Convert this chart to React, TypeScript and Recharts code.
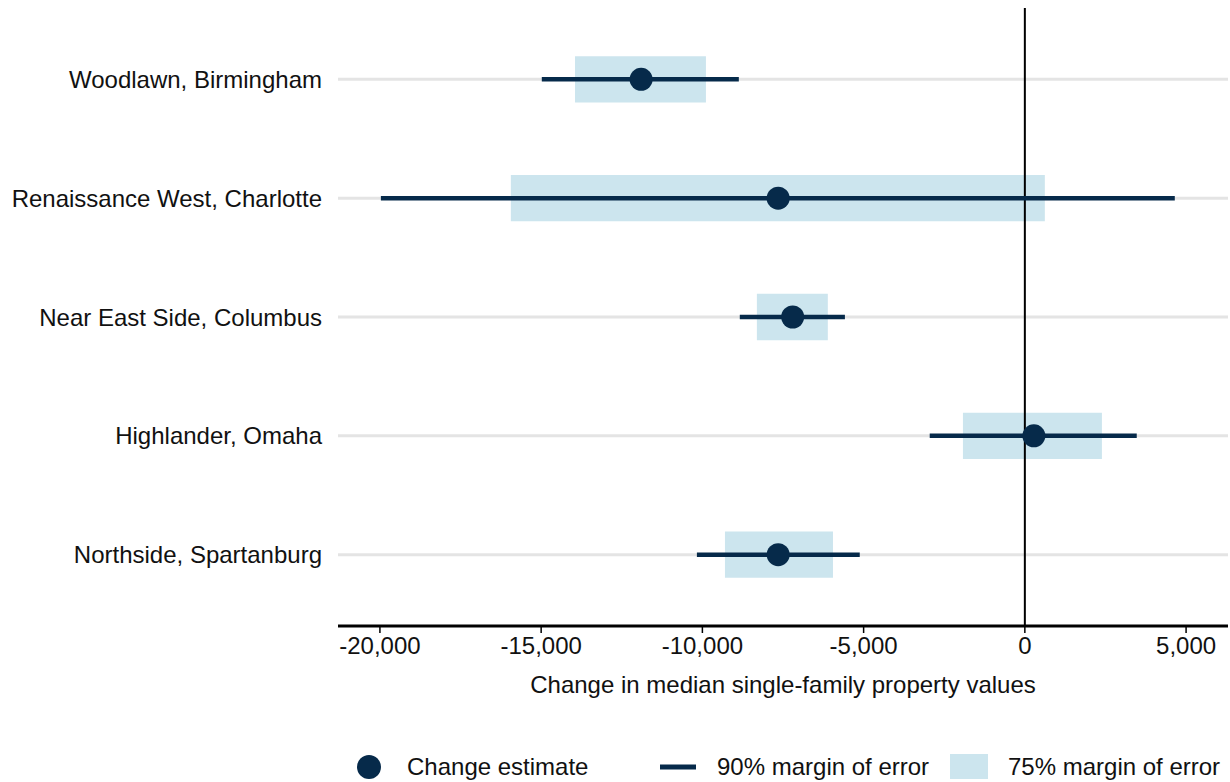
import React from 'react';
import {
  ScatterChart,
  Scatter,
  XAxis,
  YAxis,
  ReferenceArea,
  ReferenceLine,
  ErrorBar,
} from 'recharts';

// neighbourhoods, top to bottom
const places = [
  'Woodlawn, Birmingham',
  'Renaissance West, Charlotte',
  'Near East Side, Columbus',
  'Highlander, Omaha',
  'Northside, Spartanburg',
];
const estimates = [-11900, -7650, -7200, 280, -7650];
const moe90Low = [-14980, -19970, -8840, -2950, -10170];
const moe90High = [-8870, 4650, -5580, 3470, -5120];
const moe75Low = [-13950, -15940, -8310, -1920, -9300];
const moe75High = [-9890, 620, -6110, 2390, -5950];
const xTicks = [-20000, -15000, -10000, -5000, 0, 5000];

const NAVY = '#062a4a';
const LIGHT = '#cce5ee';
const FONT = '"Liberation Sans", Arial, sans-serif';

const rows = places.map((name, i) => ({
  row: i + 1,
  name,
  est: estimates[i],
  err: [estimates[i] - moe90Low[i], moe90High[i] - estimates[i]],
}));

const Dot = (props: any) => <circle cx={props.cx} cy={props.cy} r={11.5} fill={NAVY} />;

export default function App() {
  return (
    <div style={{ position: 'absolute', left: 0, top: 0, width: 1230, height: 782, background: '#fff', fontFamily: FONT }}>
      <ScatterChart width={1230} height={782} margin={{ top: 8, right: 2, bottom: 80, left: 0 }}>
        <XAxis
          type="number"
          dataKey="est"
          domain={[-21300, 6300]}
          ticks={xTicks}
          allowDataOverflow
          tickFormatter={(v: number) => v.toLocaleString('en-US')}
          axisLine={{ stroke: '#000', strokeWidth: 3 }}
          tickLine={{ stroke: '#000', strokeWidth: 1.5 }}
          tickSize={7}
          tickMargin={4}
          tick={{ fontSize: 24, fill: '#111', fontFamily: FONT }}
          height={76}
          label={{ value: 'Change in median single-family property values', position: 'insideBottom', offset: 9, fontSize: 24, fill: '#111', fontFamily: FONT }}
        />
        <YAxis
          type="number"
          dataKey="row"
          domain={[0.4, 5.6]}
          reversed
          ticks={[1, 2, 3, 4, 5]}
          tickFormatter={(v: number) => places[v - 1] ?? ''}
          axisLine={false}
          tickLine={false}
          tickSize={0}
          tickMargin={16}
          width={338}
          tick={{ fontSize: 24, fill: '#111', fontFamily: FONT }}
        />
        {rows.map((r) => (
          <ReferenceLine key={'g' + r.row} y={r.row} stroke="#e4e4e4" strokeWidth={3} />
        ))}
        {rows.map((r, i) => (
          <ReferenceArea
            key={r.name}
            x1={moe75Low[i]}
            x2={moe75High[i]}
            y1={r.row - 0.195}
            y2={r.row + 0.195}
            fill={LIGHT}
            fillOpacity={1}
            stroke="none"
          />
        ))}
        <ReferenceLine x={0} stroke="#000" strokeWidth={2} />
        <Scatter data={rows} shape={<Dot />} isAnimationActive={false}>
          <ErrorBar dataKey="err" direction="x" width={0} strokeWidth={4.5} stroke={NAVY} />
        </Scatter>
      </ScatterChart>
      <div style={{ position: 'absolute', top: 752, left: 0, width: 1230, height: 30, fontSize: 24, color: '#111' }}>
        <svg width={1230} height={30} style={{ position: 'absolute', left: 0, top: 0 }}>
          <circle cx={369} cy={15} r={12} fill={NAVY} />
          <rect x={660} y={12.5} width={36} height={5} fill={NAVY} />
          <rect x={950} y={2} width={38} height={25} fill={LIGHT} />
        </svg>
        <span style={{ position: 'absolute', left: 407, top: 0, lineHeight: '30px' }}>Change estimate</span>
        <span style={{ position: 'absolute', left: 717, top: 0, lineHeight: '30px' }}>90% margin of error</span>
        <span style={{ position: 'absolute', left: 1008, top: 0, lineHeight: '30px' }}>75% margin of error</span>
      </div>
    </div>
  );
}
